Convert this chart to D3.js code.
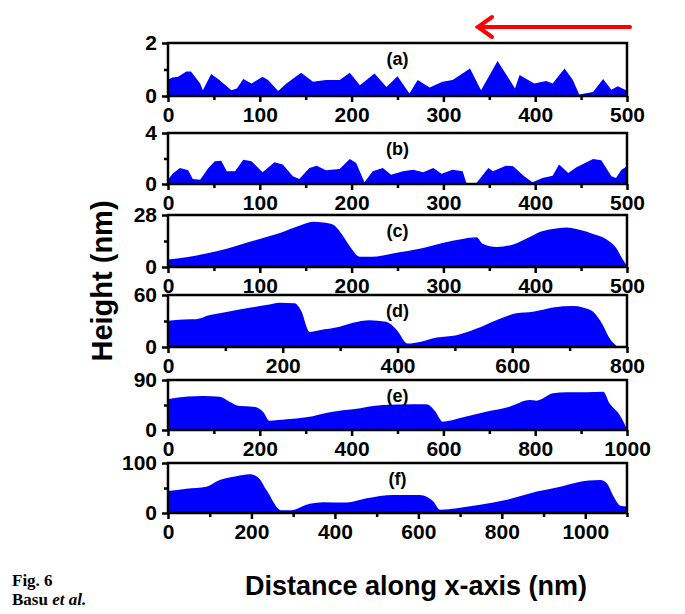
<!DOCTYPE html>
<html><head><meta charset="utf-8">
<script src="https://cdn.jsdelivr.net/npm/d3@7"></script>
<style>
html,body{margin:0;padding:0;background:#fff;}
svg text{font-family:"Liberation Sans",Arial,Helvetica,sans-serif;font-weight:bold;fill:#000;}
</style></head>
<body><svg id="c" width="685" height="614"></svg>
<script>
// ---- data ----
const panelLabels = ["(a)","(b)","(c)","(d)","(e)","(f)"];
const xMax = [500,500,500,800,1000,1100];
const yMax = [2,4,28,60,90,100];
const xTickStep = [100,100,100,200,200,200];
const xTickLast = [500,500,500,800,1000,1000];

const xA = [0,5,11,20,25,35,38,47,56,69,75,82,91,103,109,120,129,145,158,172,187,198,209,225,238,250,263,272,285,299,310,329,341,359,370,378,383,399,412,419,432,441,448,463,474,483,490,499,500];
const yA = [0.62,0.70,0.73,0.92,0.92,0.47,0.22,0.83,0.60,0.22,0.28,0.64,0.47,0.73,0.60,0.19,0.47,0.88,0.54,0.60,0.60,0.88,0.41,0.85,0.34,0.75,0.09,0.60,0.32,0.54,0.60,1.04,0.22,1.32,0.73,0.28,0.79,0.47,0.57,0.47,1.04,0.60,0.06,0.15,0.64,0.24,0.37,0.22,0.22];

const xB = [0,5,13,22,27,35,44,51,58,64,73,82,91,103,116,125,136,143,154,162,172,187,198,205,214,223,234,243,256,267,278,289,298,310,321,325,336,349,354,368,376,388,397,408,419,426,436,445,463,472,483,488,494,500];
const yB = [0.34,0.80,1.25,1.07,0.39,0.34,1.25,1.78,1.83,1.00,1.00,1.90,1.78,0.92,1.70,1.52,0.60,0.39,1.25,1.44,1.07,1.18,1.96,1.65,0.13,1.00,1.25,0.73,1.00,1.12,0.92,1.25,0.81,1.12,1.00,0.08,0.08,1.25,1.00,1.44,1.39,0.60,0.13,0.47,0.65,1.52,0.86,1.31,1.96,1.86,0.60,0.47,1.12,1.39];

const xC = [0,20,53,75,100,122,143,158,169,180,187,198,209,223,245,274,299,321,336,343,358,376,394,405,419,434,448,463,477,488,495,500];
const yC = [4.1,5.3,8.5,11.5,15.1,18.3,22.2,24.3,23.9,22.7,19.2,11.2,5.5,5.5,7.3,9.8,12.9,15.1,16.0,12.4,10.8,12.1,16.1,18.8,20.4,21.3,20.0,17.8,15.1,10.3,4.4,0.5];

const xD = [0,38,49,73,102,137,171,195,221,232,247,264,299,322,351,380,398,418,439,468,503,538,572,607,636,671,706,723,741,758,770,781,784,800];
const yD = [30.2,32.1,32.1,36.8,40.3,44.6,48.4,51.2,50.4,41.9,17.4,19.4,23.3,27.9,31.0,29.1,20.2,3.9,5.8,10.9,13.6,21.3,31.0,38.8,40.7,45.7,47.3,45.7,40.7,25.2,9.7,1.6,0,0];

const xE = [0,11,76,113,134,156,185,207,221,258,301,359,403,468,534,563,581,599,643,693,744,788,803,839,868,911,948,962,984,1000];
const yE = [55.2,57,61.2,60,51,43.2,42,33,16.8,19.2,22.8,33,37.2,45,46.2,46.2,34.8,15,22.8,33,42,54,52.8,66,67.8,67.8,69,48,27,1.8];

const xF = [0,44,92,124,164,196,216,236,272,292,340,372,428,476,540,604,636,652,700,748,812,884,940,980,1036,1052,1068,1084,1100];
const yF = [44,48.7,52.6,65.8,73.7,77.6,71,46,5.3,5.3,18.4,21.7,21,29.6,36.2,36.2,23,6.6,10.5,16.4,26.3,42.8,52.6,61.2,65.8,59.2,32.9,14.5,13.2];

const seriesX = [xA,xB,xC,xD,xE,xF];
const seriesY = [yA,yB,yC,yD,yE,yF];

// ---- layout ----
const svg = d3.select("#c");
const left = 168, right = 627;
const tops = [43,133,215,295,380,463];
const bottoms = [96,184,267,347,430,513];
const curves = [d3.curveLinear,d3.curveLinear,d3.curveMonotoneX,d3.curveMonotoneX,d3.curveMonotoneX,d3.curveMonotoneX];

seriesX.forEach((xs,i)=>{
  const x = d3.scaleLinear().domain([0,xMax[i]]).range([left,right]);
  const y = d3.scaleLinear().domain([0,yMax[i]]).range([bottoms[i],tops[i]]);
  const g = svg.append("g");
  const pts = xs.map((v,j)=>[v,seriesY[i][j]]);
  const area = d3.area().curve(curves[i]).x(d=>x(d[0])).y0(y(0)).y1(d=>y(d[1]));
  g.append("path").datum(pts).attr("d",area).attr("fill","#0000ff").attr("stroke","none");

  const minorX = d3.range(xTickStep[i]/2, xMax[i]+1e-9, xTickStep[i]/2).filter(v=>Math.abs(v/xTickStep[i]-Math.round(v/xTickStep[i]))>1e-6 || v>xTickLast[i]);
  const majorX = d3.range(0, xTickLast[i]+1e-9, xTickStep[i]);
  const xAxis = d3.axisBottom(x).tickValues(majorX).tickFormat(d3.format("d")).tickSize(6).tickPadding(5);
  const gx = g.append("g").attr("transform",`translate(0,${bottoms[i]})`).call(xAxis);
  gx.select(".domain").remove();
  gx.selectAll(".tick line").attr("stroke","#000").attr("stroke-width",2.5);
  gx.selectAll("text").attr("font-size",21);
  g.append("g").attr("transform",`translate(0,${bottoms[i]})`).call(d3.axisBottom(x).tickValues(minorX).tickFormat("").tickSize(4))
    .call(s=>{s.select(".domain").remove(); s.selectAll(".tick line").attr("stroke","#000").attr("stroke-width",2.5);});

  const yAxis = d3.axisLeft(y).tickValues([0,yMax[i]]).tickFormat(d3.format("d")).tickSize(6).tickPadding(5);
  const gy = g.append("g").attr("transform",`translate(${left},0)`).call(yAxis);
  gy.select(".domain").remove();
  gy.selectAll(".tick line").attr("stroke","#000").attr("stroke-width",2.5);
  gy.selectAll("text").attr("font-size",21);
  g.append("g").attr("transform",`translate(${left},0)`).call(d3.axisLeft(y).tickValues([yMax[i]/2]).tickFormat("").tickSize(4))
    .call(s=>{s.select(".domain").remove(); s.selectAll(".tick line").attr("stroke","#000").attr("stroke-width",2.5);});

  g.append("rect").attr("x",left).attr("y",tops[i]).attr("width",right-left).attr("height",bottoms[i]-tops[i])
    .attr("fill","none").attr("stroke","#000").attr("stroke-width",2.5);

  g.append("text").attr("x",(left+right)/2).attr("y",tops[i]+22).attr("text-anchor","middle")
    .attr("font-size",18).text(panelLabels[i]);
});

svg.append("text").attr("x",416).attr("y",595).attr("text-anchor","middle").attr("font-size",27)
  .text("Distance along x-axis (nm)");
svg.append("text").attr("transform","translate(112,281) rotate(-90)").attr("text-anchor","middle")
  .attr("font-size",29).text("Height (nm)");

const arrow = svg.append("g").attr("stroke","#ff0000").attr("stroke-width",4).attr("fill","none").attr("stroke-linecap","round");
arrow.append("line").attr("x1",630).attr("y1",27).attr("x2",478).attr("y2",27);
arrow.append("polyline").attr("points","492,17 478,27 492,37");

const t1 = svg.append("text").attr("x",12).attr("y",586).attr("font-size",17).style("font-family","'Liberation Serif','Times New Roman',serif").text("Fig. 6");
const t2 = svg.append("text").attr("x",12).attr("y",605).attr("font-size",17).style("font-family","'Liberation Serif','Times New Roman',serif");
t2.append("tspan").text("Basu ");
t2.append("tspan").attr("font-style","italic").text("et al.");
</script></body></html>
